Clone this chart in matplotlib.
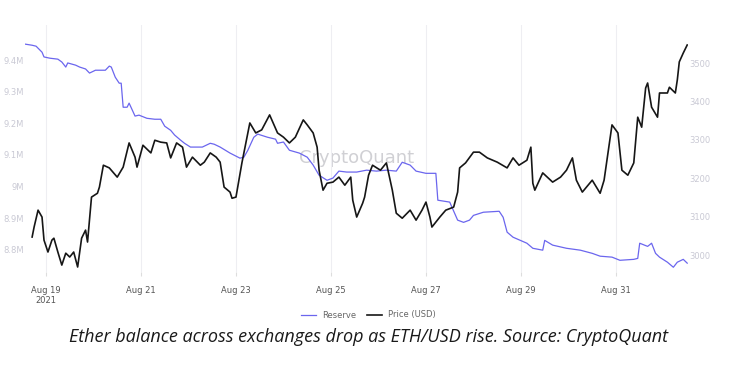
import matplotlib.pyplot as plt
import matplotlib.dates as mdates
import pandas as pd

# hours since 2021-08-18 00:00 and ETH price (USD)
price_hours = [17, 18, 20, 22, 23, 25, 27, 28, 30, 32, 34, 36, 38, 40, 42, 44, 45, 47, 50, 51,
               53, 56, 60, 63, 66, 69, 70, 73, 77, 79, 82, 85, 87, 90, 93, 95, 98, 102, 104, 107,
               110, 112, 114, 117, 118, 120, 123, 124, 127, 130, 133, 137, 141, 144, 147, 150, 154, 156, 159, 161,
               162, 164, 166, 169, 172, 175, 178, 179, 181, 184, 185, 187, 189, 193, 196, 199, 201, 204, 208, 211,
               214, 216, 218, 219, 223, 226, 230, 232, 233, 236, 240, 243, 247, 252, 257, 260, 263, 267, 269, 270,
               271, 275, 280, 284, 287, 290, 292, 295, 300, 304, 306, 308, 310, 313, 315, 318, 321, 323, 325, 327,
               328, 330, 333, 334, 338, 339, 342, 343, 344, 346, 348]
price = [3047, 3073, 3117, 3099, 3039, 3008, 3039, 3044, 3008, 2974, 3005, 2995, 3008, 2969, 3044, 3065, 3034, 3151, 3161, 3177,
         3234, 3227, 3203, 3229, 3292, 3255, 3229, 3286, 3266, 3299, 3294, 3292, 3253, 3292, 3281, 3229, 3255, 3234, 3242, 3266,
         3255, 3242, 3177, 3164, 3148, 3151, 3240, 3266, 3344, 3318, 3326, 3365, 3318, 3307, 3292, 3307, 3352, 3339, 3318, 3281,
         3221, 3169, 3187, 3190, 3203, 3182, 3203, 3143, 3099, 3135, 3151, 3208, 3234, 3221, 3240, 3169, 3109, 3096, 3117, 3091,
         3117, 3138, 3099, 3073, 3099, 3117, 3125, 3164, 3227, 3240, 3268, 3268, 3253, 3242, 3227, 3253, 3234, 3247, 3281, 3187,
         3169, 3214, 3190, 3203, 3221, 3253, 3195, 3164, 3195, 3161, 3195, 3268, 3339, 3318, 3221, 3208, 3240, 3359, 3333, 3435,
         3448, 3385, 3359, 3422, 3422, 3437, 3422, 3456, 3503, 3526, 3547]

# hours since 2021-08-18 00:00 and exchange reserve (millions of ETH)
reserve_hours = [13, 17, 19, 22, 23, 26, 30, 32, 34, 35, 39, 41, 44, 46, 49, 51, 54, 56, 57, 59,
                 61, 62, 63, 65, 66, 69, 71, 75, 79, 82, 84, 87, 89, 92, 94, 97, 100, 103, 107, 109,
                 112, 117, 122, 124, 126, 129, 131, 136, 140, 141, 144, 147, 152, 156, 159, 162, 166, 169, 172, 176,
                 181, 186, 191, 196, 201, 204, 208, 211, 216, 221, 222, 228, 232, 235, 238, 240, 245, 253, 255, 257,
                 260, 267, 270, 275, 276, 280, 287, 294, 300, 304, 310, 314, 321, 323, 324, 328, 330, 332, 334, 338,
                 341, 343, 346, 348]
reserve = [9.451, 9.447, 9.444, 9.425, 9.410, 9.406, 9.403, 9.394, 9.378, 9.391, 9.384, 9.378, 9.372, 9.359, 9.368, 9.368, 9.368, 9.381, 9.378, 9.346,
           9.327, 9.327, 9.251, 9.251, 9.264, 9.223, 9.226, 9.216, 9.213, 9.213, 9.191, 9.178, 9.163, 9.147, 9.137, 9.125, 9.125, 9.125, 9.137, 9.134,
           9.125, 9.106, 9.090, 9.093, 9.115, 9.156, 9.166, 9.156, 9.150, 9.137, 9.141, 9.115, 9.106, 9.093, 9.068, 9.036, 9.020, 9.027, 9.049, 9.046,
           9.046, 9.052, 9.049, 9.052, 9.049, 9.077, 9.068, 9.049, 9.042, 9.042, 8.957, 8.951, 8.894, 8.887, 8.894, 8.909, 8.919, 8.922, 8.903, 8.856,
           8.840, 8.821, 8.805, 8.799, 8.830, 8.815, 8.805, 8.799, 8.789, 8.780, 8.777, 8.767, 8.770, 8.773, 8.821, 8.811, 8.821, 8.789, 8.777, 8.761,
           8.745, 8.761, 8.770, 8.758]

reserve_ticks = [8.8, 8.9, 9.0, 9.1, 9.2, 9.3, 9.4]
price_ticks = [3000, 3100, 3200, 3300, 3400, 3500]

base = pd.Timestamp('2021-08-18')
t_price = base + pd.to_timedelta(price_hours, unit='h')
t_res = base + pd.to_timedelta(reserve_hours, unit='h')

fig = plt.figure(figsize=(7.37, 3.66), dpi=100)
ax = fig.add_axes([25 / 737, 1 - 272 / 366, (688 - 25) / 737, (272 - 25) / 366])
ax2 = ax.twinx()

res_color = '#6b66ee'
price_color = '#161616'
l1, = ax.plot(t_res, reserve, color=res_color, lw=0.9, label='Reserve')
l2, = ax2.plot(t_price, price, color=price_color, lw=1.2, label='Price (USD)')

ax.set_xlim(base + pd.Timedelta(hours=13.4), base + pd.Timedelta(hours=348.4))
ax.set_ylim(8.730, 9.511)
ax2.set_ylim(2956, 3599)

ticks = pd.date_range('2021-08-19', '2021-08-31', freq='2D')
ax.set_xticks(ticks)
ax.set_xticklabels([d.strftime('%b %d') + ('\n2021' if i == 0 else '') for i, d in enumerate(ticks)],
                   fontsize=6, color='#555555')
ax.grid(axis='x', color='#eeeef2', lw=0.8)
ax.tick_params(axis='x', length=3, color='#dddddd', pad=7)

ax.set_yticks(reserve_ticks)
ax.set_yticklabels([f'{v:g}M' for v in reserve_ticks], fontsize=6, color='#c9c9d4')
ax.tick_params(axis='y', length=0, pad=1)
ax2.set_yticks(price_ticks)
ax2.set_yticklabels([str(v) for v in price_ticks], fontsize=6, color='#c9c9d4')
ax2.tick_params(axis='y', length=0, pad=1)

for a in (ax, ax2):
    for s in a.spines.values():
        s.set_visible(False)

ax.text(0.5, 0.46, 'CryptoQuant', transform=ax.transAxes, ha='center', va='center',
        fontsize=13, color='#d0d0d4', zorder=0)

fig.legend(handles=[l1, l2], loc='center', bbox_to_anchor=(0.5, 1 - 315 / 366), ncol=2,
           frameon=False, fontsize=6, labelcolor='#666666', handlelength=1.8, columnspacing=1.2)

fig.text(0.5, 1 - 337 / 366, 'Ether balance across exchanges drop as ETH/USD rise. Source: CryptoQuant',
         ha='center', va='center', fontsize=13, style='italic', family='Open Sans', color='#1a1a1a')

fig.savefig('out.png', dpi=100)
